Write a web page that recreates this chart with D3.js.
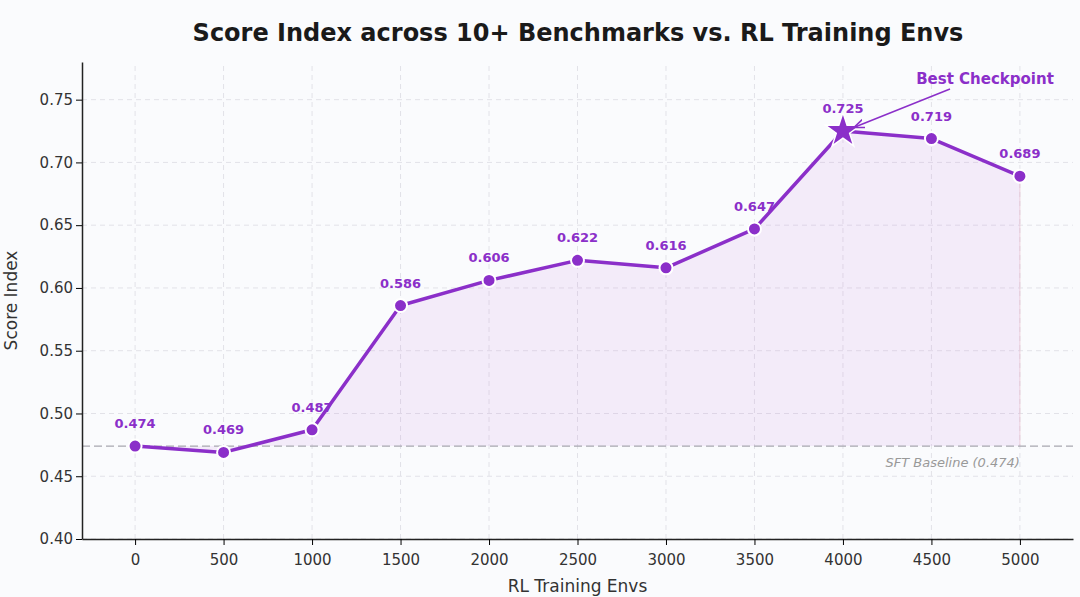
<!DOCTYPE html>
<html><head><meta charset="utf-8">
<script src="https://cdn.jsdelivr.net/npm/d3@7"></script>
<style>body{margin:0;background:#fff;font-family:"DejaVu Sans",sans-serif}</style>
</head><body>
<script>
const envs = [0, 500, 1000, 1500, 2000, 2500, 3000, 3500, 4000, 4500, 5000]
const scores = [0.474, 0.469, 0.487, 0.586, 0.606, 0.622, 0.616, 0.647, 0.725, 0.719, 0.689]
const yTicks = [0.40, 0.45, 0.50, 0.55, 0.60, 0.65, 0.70, 0.75]
const baseline = 0.474
const best = 4000

const W = 1080, H = 597
const margin = {top: 62, left: 82, bottom: 58, right: 7}
const color = '#8b2fc9'

const svg = d3.select('body').append('svg').attr('width', W).attr('height', H)
svg.append('rect').attr('width', W).attr('height', H).attr('fill', '#fafbfd')

const x = d3.scaleLinear().domain([-300, 5300]).range([margin.left, W - margin.right])
const y = d3.scaleLinear().domain([0.40, 0.78]).range([H - margin.bottom, margin.top])

// grid
svg.append('g').selectAll('line').data(envs).join('line')
  .attr('x1', d => x(d)).attr('x2', d => x(d)).attr('y1', y(0.40)).attr('y2', y(0.78))
  .attr('stroke', '#e2e2e8').attr('stroke-dasharray', '5,4')
svg.append('g').selectAll('line').data(yTicks).join('line')
  .attr('x1', x(-300)).attr('x2', x(5300)).attr('y1', d => y(d)).attr('y2', d => y(d))
  .attr('stroke', '#e2e2e8').attr('stroke-dasharray', '5,4')

const pts = envs.map((e, i) => [e, scores[i]])

svg.append('path').datum(pts)
  .attr('d', d3.area().x(d => x(d[0])).y0(y(baseline)).y1(d => y(d[1])))
  .attr('fill', '#c77ddc').attr('fill-opacity', 0.12)
svg.append('line').attr('x1', x(5000)).attr('x2', x(5000)).attr('y1', y(0.689)).attr('y2', y(baseline))
  .attr('stroke', '#e8b8c8').attr('stroke-opacity', 0.6)

// baseline
svg.append('line').attr('x1', x(-300)).attr('x2', x(5300)).attr('y1', y(baseline)).attr('y2', y(baseline))
  .attr('stroke', '#a8a8b0').attr('stroke-dasharray', '8,4').attr('stroke-width', 1.3)
svg.append('text').attr('x', x(5000)).attr('y', y(baseline) + 21).attr('text-anchor', 'end')
  .attr('font-size', 13).attr('font-style', 'italic').attr('fill', '#999').text(`SFT Baseline (${baseline})`)

svg.append('path').datum(pts)
  .attr('d', d3.line().x(d => x(d[0])).y(d => y(d[1])))
  .attr('fill', 'none').attr('stroke', color).attr('stroke-width', 3.5).attr('stroke-linejoin', 'round')

svg.selectAll('.pt').data(pts.filter(d => d[0] !== best)).join('circle')
  .attr('cx', d => x(d[0])).attr('cy', d => y(d[1])).attr('r', 6.5)
  .attr('fill', color).attr('stroke', '#fff').attr('stroke-width', 2)
const bp = pts.find(d => d[0] === best)
svg.append('path').attr('d', d3.symbol(d3.symbolStar, 380)())
  .attr('transform', `translate(${x(bp[0])},${y(bp[1])})`)
  .attr('fill', color).attr('stroke', '#fff').attr('stroke-width', 1.5)

svg.selectAll('.lbl').data(pts).join('text')
  .attr('x', d => x(d[0])).attr('y', d => y(d[1]) - 18).attr('text-anchor', 'middle')
  .attr('font-size', 13).attr('font-weight', 'bold').attr('fill', color).text(d => d[1].toFixed(3))

// annotation
svg.append('defs').append('marker').attr('id', 'ah').attr('viewBox', '0 0 10 10')
  .attr('refX', 9).attr('refY', 5).attr('markerWidth', 7).attr('markerHeight', 7).attr('orient', 'auto')
  .append('path').attr('d', 'M0,1 L10,5 L0,9').attr('fill', 'none').attr('stroke', color).attr('stroke-width', 1.5)
svg.append('line').attr('x1', 950).attr('y1', 89).attr('x2', x(best) + 12).attr('y2', y(bp[1]) - 4)
  .attr('stroke', color).attr('stroke-width', 1.5).attr('marker-end', 'url(#ah)')
svg.append('text').attr('x', 985).attr('y', 84).attr('text-anchor', 'middle')
  .attr('font-size', 15).attr('font-weight', 'bold').attr('fill', color).text('Best Checkpoint')

// axes
const gx = svg.append('g').attr('transform', `translate(0,${y(0.40)})`)
  .call(d3.axisBottom(x).tickValues(envs).tickFormat(d3.format('d')).tickSizeOuter(0))
const gy = svg.append('g').attr('transform', `translate(${x(-300)},0)`)
  .call(d3.axisLeft(y).tickValues(yTicks).tickFormat(d3.format('.2f')).tickSizeOuter(0))
for (const g of [gx, gy]) {
  g.attr('font-size', 15).attr('font-family', 'DejaVu Sans')
  g.selectAll('text').attr('fill', '#333')
  g.select('.domain').attr('stroke', '#222').attr('stroke-width', 1.5)
}
gx.selectAll('text').attr('dy', '1.1em')

svg.append('text').attr('x', (x(-300) + x(5300)) / 2).attr('y', 592).attr('text-anchor', 'middle')
  .attr('font-size', 17).attr('fill', '#333').text('RL Training Envs')
svg.append('text').attr('transform', `translate(17,${(y(0.40) + y(0.78)) / 2}) rotate(-90)`)
  .attr('text-anchor', 'middle').attr('font-size', 17).attr('fill', '#333').text('Score Index')
svg.append('text').attr('x', 578).attr('y', 41).attr('text-anchor', 'middle')
  .attr('font-size', 24).attr('font-weight', 'bold').attr('fill', '#1a1a1a')
  .text('Score Index across 10+ Benchmarks vs. RL Training Envs')
</script>
</body></html>
